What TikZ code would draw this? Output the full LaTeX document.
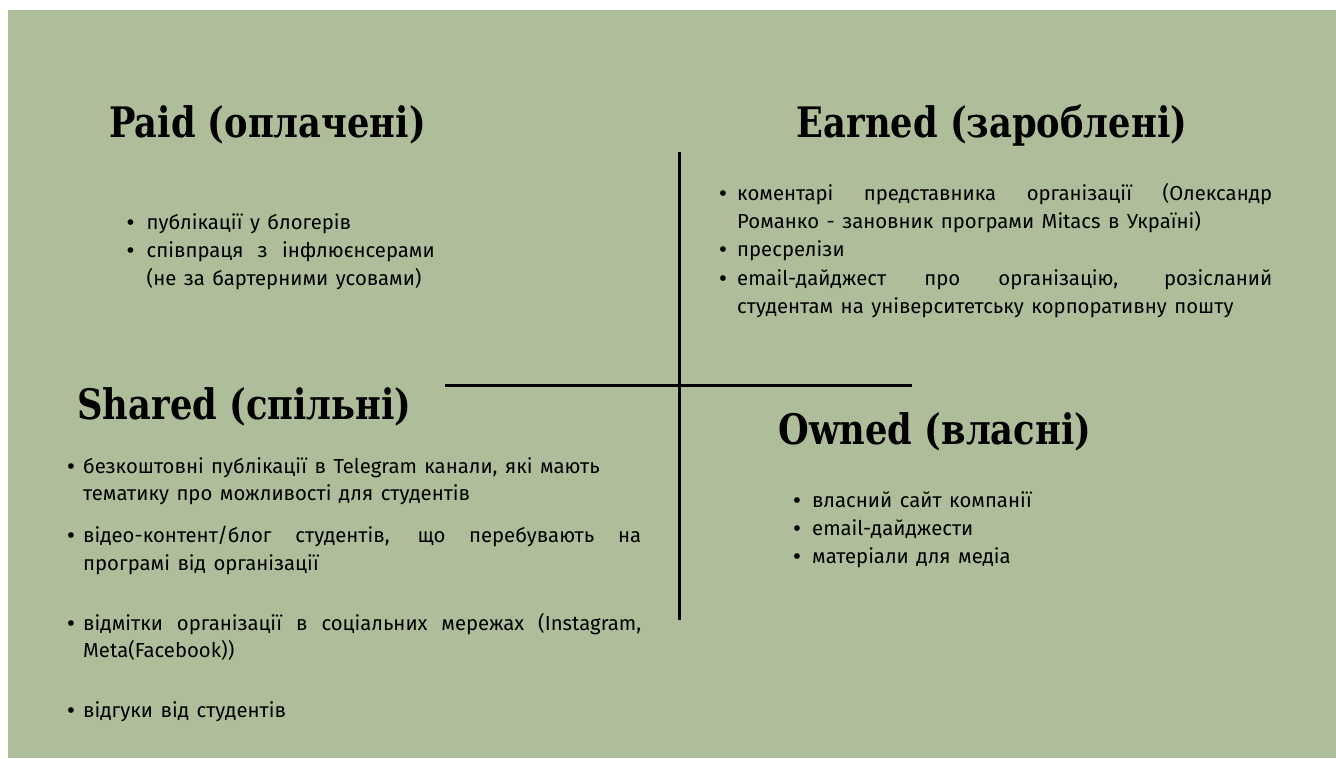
\documentclass[tikz,border=0pt]{standalone}
\usepackage{fontspec}
\setmainfont{Fira Sans}
\newfontfamily\headfont[FakeStretch=0.84]{DejaVu Serif}
\newfontfamily\bodyfont{Fira Sans}
\newfontfamily\dotfont{Liberation Sans}
\definecolor{bg}{RGB}{175,190,154}
\newcommand\widespace{\spaceskip=7.5pt plus 3pt minus 1pt\relax}
\begin{document}
\begin{tikzpicture}[x=1pt,y=-1pt,
  head/.style={anchor=base, inner sep=0pt, font=\headfont\bfseries\fontsize{42}{46}\selectfont},
  body/.style={anchor=base west, inner sep=0pt, font=\bodyfont\fontsize{20.3}{28}\selectfont, execute at begin node=\widespace},
  dot/.style={anchor=base, inner sep=0pt, font=\dotfont\fontsize{21}{28}\selectfont},
  rule/.style={line width=3pt, black}]
\fill[white] (0,0) rectangle (1336,758);
\fill[bg] (8,10) rectangle (1336,758);
\useasboundingbox (0,0) rectangle (1336,758);
% headings
\node[head] (hpaid) at (267.5,137.5) {Paid (оплачені)};
\node[head] (hearn) at (992,137.5) {Earned (зароблені)};
\node[head] (hshared) at (244.5,419) {Shared (спільні)};
\node[head] (howned) at (935,444) {Owned (власні)};
% axes
\coordinate (vt) at (679,152);
\coordinate (vb) at (679,620);
\coordinate (hl) at (445,385);
\coordinate (hr) at (912,385);
\draw[rule] (vt) -- (vb);
\draw[rule] (hl) -- (hr);
% Paid
\node[dot] (pb1) at (130.5,229) {•};
\node[body] (p1) at (146.5,229) {публікації у блогерів};
\node[dot] (pb2) at (130.5,257) {•};
\node[body] (p2) at (146.5,257) {\makebox[288pt][s]{співпраця з інфлюєнсерами}};
\node[body] (p3) at (146.5,285) {(не за бартерними усовами)};
% Earned
\node[dot] (eb1) at (723,200) {•};
\node[body] (e1) at (737,200) {\makebox[535pt][s]{коментарі представника організації (Олександр}};
\node[body] (e2) at (737,228) {Романко - зановник програми Mitacs в Україні)};
\node[dot] (eb2) at (723,256) {•};
\node[body] (e3) at (737,256) {пресрелізи};
\node[dot] (eb3) at (723,285) {•};
\node[body] (e4) at (737,285) {\makebox[535pt][s]{email-дайджест про організацію, розісланий}};
\node[body] (e5) at (737,313) {студентам на університетську корпоративну пошту};
% Shared
\node[dot] (sb1) at (71,473) {•};
\node[body] (s1) at (83,473) {безкоштовні публікації в Telegram канали, які мають};
\node[body] (s2) at (83,500) {тематику про можливості для студентів};
\node[dot] (sb2) at (71,542) {•};
\node[body] (s3) at (83,542) {\makebox[558pt][s]{відео-контент/блог студентів, що перебувають на}};
\node[body] (s4) at (83,570) {програмі від організації};
\node[dot] (sb3) at (71,630) {•};
\node[body] (s5) at (83,630) {\makebox[558pt][s]{відмітки організації в соціальних мережах (Instagram,}};
\node[body] (s6) at (83,657) {Meta(Facebook))};
\node[dot] (sb4) at (71,717) {•};
\node[body] (s7) at (83,717) {відгуки від студентів};
% Owned
\node[dot] (ob1) at (797,507) {•};
\node[body] (o1) at (812,507) {власний сайт компанії};
\node[dot] (ob2) at (797,535) {•};
\node[body] (o2) at (812,535) {email-дайджести};
\node[dot] (ob3) at (797,563) {•};
\node[body] (o3) at (812,563) {матеріали для медіа};
\end{tikzpicture}
\end{document}
